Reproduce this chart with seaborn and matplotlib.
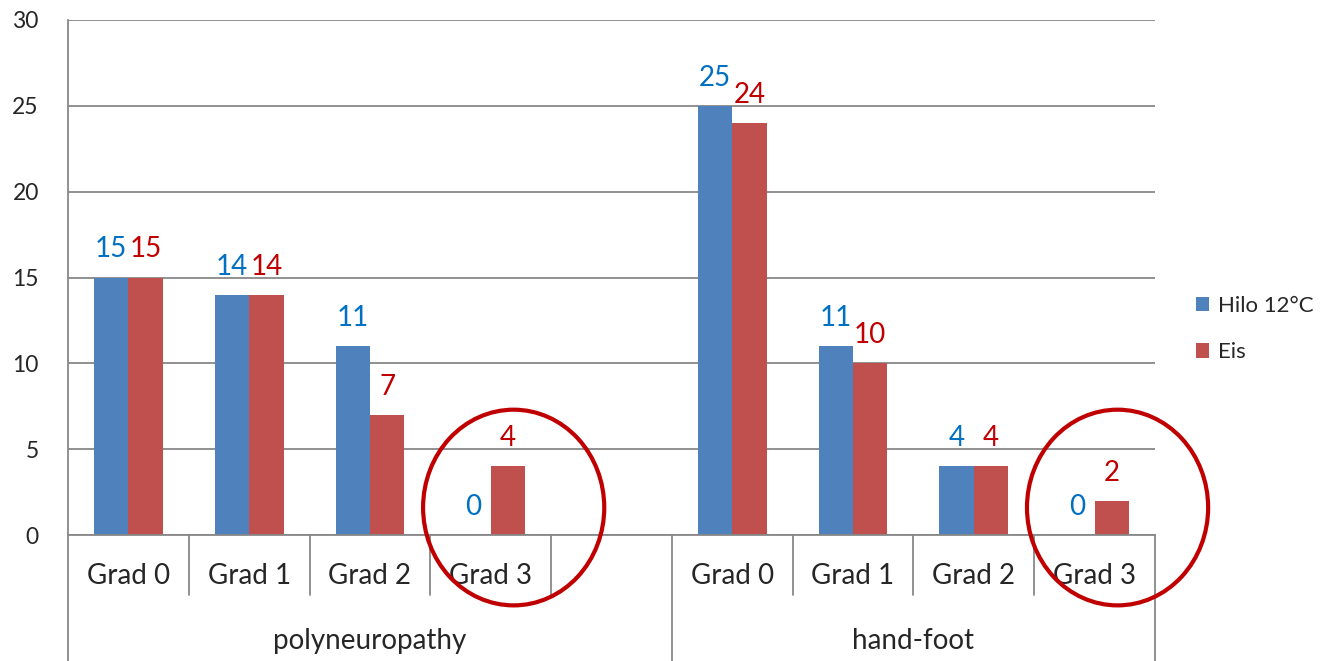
import numpy as np
import pandas as pd
import matplotlib.pyplot as plt
import seaborn as sns
from matplotlib.patches import Ellipse

# Data
groups = ["polyneuropathy", "hand-foot"]
grades = ["Grad 0", "Grad 1", "Grad 2", "Grad 3"]
hilo_poly = [15, 14, 11, 0]
eis_poly = [15, 14, 7, 4]
hilo_hand = [25, 11, 4, 0]
eis_hand = [24, 10, 4, 2]
series = ["Hilo 12°C", "Eis"]
bar_colors = ["#4F81BD", "#C0504D"]
label_colors = ["#0070C0", "#C00000"]

sns.set_style("white")
plt.rcParams['font.family'] = ['Lato', 'DejaVu Sans']

rows = []
for g, hilo, eis in [(groups[0], hilo_poly, eis_poly), (groups[1], hilo_hand, eis_hand)]:
    for gr, h, e in zip(grades, hilo, eis):
        rows.append({'slot': g + "|" + gr, 'series': series[0], 'value': h})
        rows.append({'slot': g + "|" + gr, 'series': series[1], 'value': e})
df = pd.DataFrame(rows)

# polyneuropathy has an empty fifth slot in the original
order = [groups[0] + "|" + gr for gr in grades] + ["gap"] + [groups[1] + "|" + gr for gr in grades]

fig = plt.figure(figsize=(13.26, 6.61), dpi=100)
ax = fig.add_axes([68 / 1326, 1 - 535 / 661, (1155 - 68) / 1326, (535 - 20) / 661])

sns.barplot(data=df, x='slot', y='value', hue='series', order=order,
            hue_order=series, palette=bar_colors, width=0.57, saturation=1,
            linewidth=0, ax=ax, legend=True)

ax.set_xlim(-0.5, len(order) - 0.5)
ax.set_ylim(0, 30)
ax.set_yticks(range(0, 31, 5))
ax.yaxis.grid(True, color='#888888', linewidth=1.3)
ax.set_axisbelow(True)
ax.tick_params(axis='y', length=9, width=1.3, color='#888888', labelsize=16.5, pad=12)
ax.tick_params(axis='x', length=0)
ax.set_xticks([])
ax.set_xlabel('')
ax.set_ylabel('')
for side in ['top', 'right']:
    ax.spines[side].set_visible(False)
for side in ['left', 'bottom']:
    ax.spines[side].set_color('#888888')
    ax.spines[side].set_linewidth(1.3)

# value labels
for cont, col in zip(ax.containers, label_colors):
    for bar in cont:
        h = bar.get_height()
        if np.isnan(h):
            continue
        ax.annotate(f"{int(h)}", (bar.get_x() + bar.get_width() / 2, h),
                    xytext=(0, 14.5), textcoords='offset points',
                    ha='center', va='baseline', color=col, fontsize=20)

# multi-level category axis
trans = ax.get_xaxis_transform()
line_kw = dict(color='#888888', linewidth=1.3, clip_on=False, transform=trans)
group_edges = [-0.5, 4.5, len(order) - 0.5]
for i in range(len(order) + 1):
    x = i - 0.5
    if x in group_edges:
        ax.plot([x, x], [0, -0.245], **line_kw)
    else:
        ax.plot([x, x], [0, -0.117], **line_kw)
for i, s in enumerate(order):
    if s == "gap":
        continue
    ax.text(i, -0.08, s.split("|")[1], transform=trans, ha='center', va='center', fontsize=20)
for g, lo, hi in [(groups[0], group_edges[0], group_edges[1]), (groups[1], group_edges[1], group_edges[2])]:
    ax.text((lo + hi) / 2, -0.205, g, transform=trans, ha='center', va='center', fontsize=20)

# red circles around the Grad 3 slots
for idx in [3, 8]:
    ell = Ellipse((idx + 0.19, 1.6), width=1.5, height=11.4, fill=False,
                  edgecolor='#C00000', linewidth=3, clip_on=False, zorder=5)
    ax.add_patch(ell)

leg = ax.legend(loc='center left', bbox_to_anchor=(1.025, 0.4), frameon=False,
                fontsize=16, handlelength=0.6, handleheight=0.6, labelspacing=1.2,
                handletextpad=0.4, borderaxespad=0.2)

fig.savefig('out.png', dpi=100)
